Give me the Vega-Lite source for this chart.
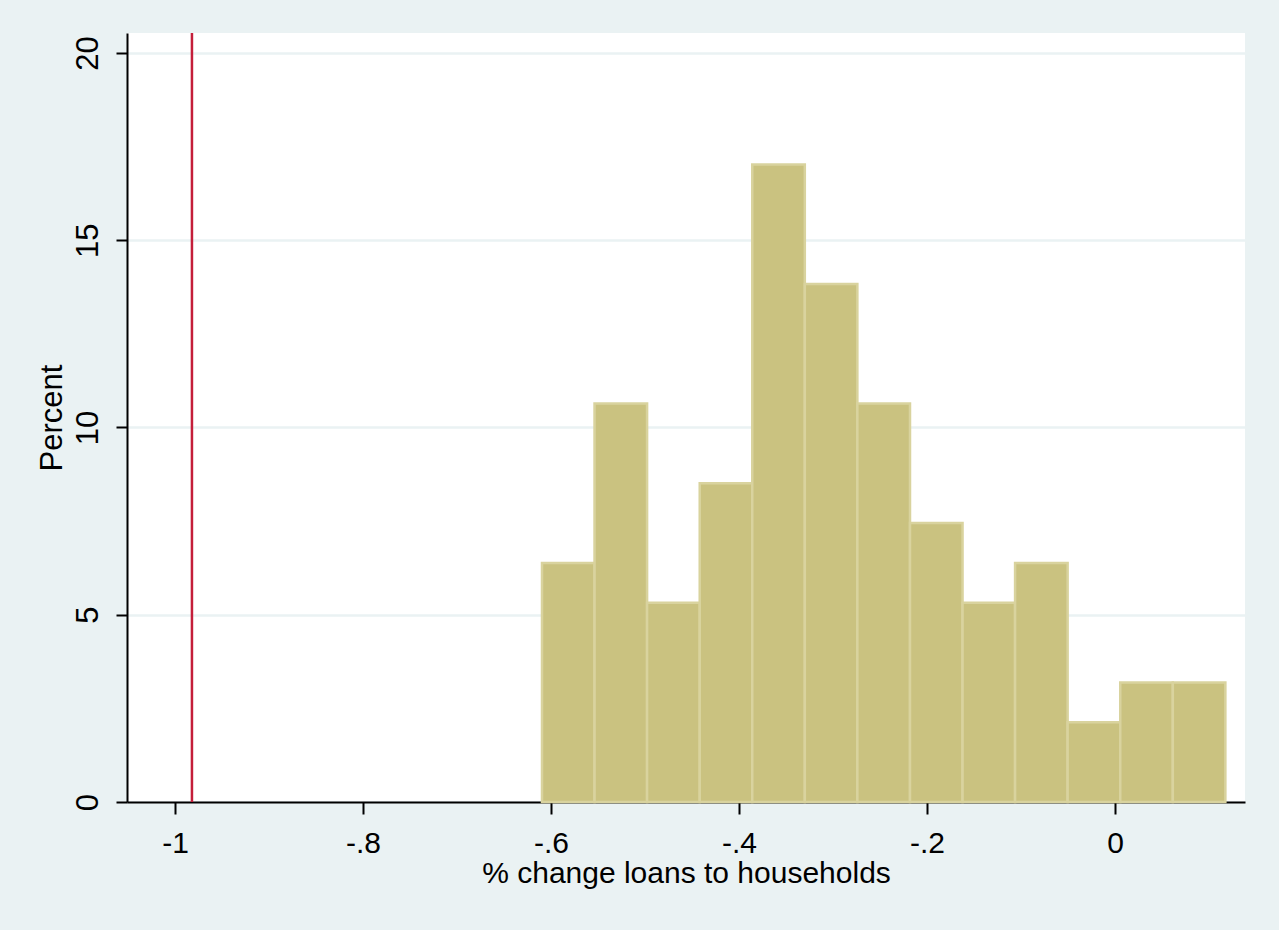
{
  "$schema": "https://vega.github.io/schema/vega-lite/v6.json",
  "width": 1118,
  "height": 769,
  "autosize": "none",
  "padding": {"left": 127, "top": 33, "right": 34, "bottom": 128},
  "background": "#eaf2f3",
  "config": {
    "font": "Liberation Sans",
    "view": {"stroke": null, "fill": "#ffffff"}
  },
  "layer": [
    {
      "data": {
        "values": [
          {"bin_start": -0.6096, "bin_end": -0.5537, "percent": 6.383},
          {"bin_start": -0.5537, "bin_end": -0.4978, "percent": 10.638},
          {"bin_start": -0.4978, "bin_end": -0.4418, "percent": 5.319},
          {"bin_start": -0.4418, "bin_end": -0.3859, "percent": 8.511},
          {"bin_start": -0.3859, "bin_end": -0.3300, "percent": 17.021},
          {"bin_start": -0.3300, "bin_end": -0.2741, "percent": 13.830},
          {"bin_start": -0.2741, "bin_end": -0.2181, "percent": 10.638},
          {"bin_start": -0.2181, "bin_end": -0.1622, "percent": 7.447},
          {"bin_start": -0.1622, "bin_end": -0.1063, "percent": 5.319},
          {"bin_start": -0.1063, "bin_end": -0.0504, "percent": 6.383},
          {"bin_start": -0.0504, "bin_end": 0.0056, "percent": 2.128},
          {"bin_start": 0.0056, "bin_end": 0.0615, "percent": 3.191},
          {"bin_start": 0.0615, "bin_end": 0.1174, "percent": 3.191}
        ]
      },
      "mark": {"type": "rect", "fill": "#cac280", "stroke": "#d9d39e", "strokeWidth": 2.5},
      "encoding": {
        "x": {
          "field": "bin_start", "type": "quantitative",
          "scale": {"domain": [-1.0511, 0.1383], "nice": false, "zero": false},
          "axis": {
            "values": [-1, -0.8, -0.6, -0.4, -0.2, 0],
            "labelExpr": "replace(toString(datum.value), '0.', '.')",
            "title": "% change loans to households",
            "grid": false,
            "domainColor": "#000000", "domainWidth": 2,
            "tickColor": "#000000", "tickWidth": 2, "tickSize": 12,
            "labelFontSize": 30, "labelColor": "#000000", "labelPadding": 14,
            "titleFontSize": 30, "titleFontWeight": "normal", "titleColor": "#000000", "titlePadding": 0
          }
        },
        "x2": {"field": "bin_end"},
        "y": {
          "field": "percent", "type": "quantitative",
          "scale": {"domain": [0, 20.534], "nice": false},
          "axis": {
            "values": [0, 5, 10, 15, 20],
            "title": "Percent",
            "grid": true, "gridColor": "#eaf2f3", "gridWidth": 2.5,
            "domainColor": "#000000", "domainWidth": 2,
            "tickColor": "#000000", "tickWidth": 2, "tickSize": 11,
            "labelAngle": -90, "labelAlign": "center", "labelBaseline": "bottom",
            "labelFontSize": 31, "labelColor": "#000000", "labelPadding": 12,
            "titleFontSize": 31, "titleFontWeight": "normal", "titleColor": "#000000", "titlePadding": 4
          }
        },
        "y2": {"datum": 0}
      }
    },
    {
      "data": {"values": [{"line": -0.982}]},
      "mark": {"type": "rule", "color": "#c41e3a", "strokeWidth": 2.5},
      "encoding": {
        "x": {"field": "line", "type": "quantitative"}
      }
    }
  ]
}
